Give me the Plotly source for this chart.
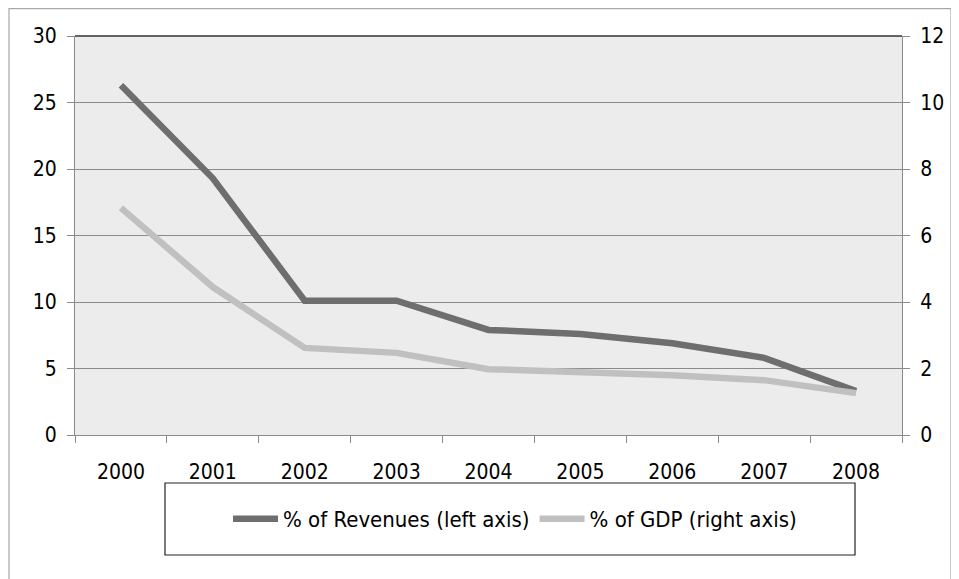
import plotly.graph_objects as go

years = ["2000", "2001", "2002", "2003", "2004", "2005", "2006", "2007", "2008"]
revenues_pct = [26.3, 19.3, 10.1, 10.1, 7.9, 7.6, 6.9, 5.8, 3.3]
gdp_pct = [6.83, 4.45, 2.62, 2.47, 1.98, 1.9, 1.8, 1.65, 1.26]
left_ticks = [0, 5, 10, 15, 20, 25, 30]
right_ticks = [0, 2, 4, 6, 8, 10, 12]

FONT = "DejaVu Sans Condensed, Liberation Sans Narrow, Roboto, sans-serif"
OFF = 8  # page body margin
W, H = 959 - OFF, 579 - OFF
L, R, T, B = 75 - OFF, 902 - OFF, 36 - OFF, 435 - OFF

def px(x):
    return (x - OFF - L) / (R - L)

def py(y):
    return (B - (y - OFF)) / (B - T)

fig = go.Figure()
fig.add_trace(go.Scatter(
    x=years, y=revenues_pct, mode="lines", name="% of Revenues (left axis)",
    line=dict(color="#6e6e6e", width=6.5), yaxis="y"))
fig.add_trace(go.Scatter(
    x=years, y=gdp_pct, mode="lines", name="% of GDP (right axis)",
    line=dict(color="#c0c0c0", width=6.5), yaxis="y2"))

fig.update_layout(
    width=W, height=H,
    margin=dict(l=L, r=W - R, t=T, b=H - B, autoexpand=False),
    paper_bgcolor="white",
    plot_bgcolor="#ececec",
    font=dict(family=FONT, size=21, color="black"),
    showlegend=True,
    legend=dict(orientation="h", x=px(515), xanchor="center", y=py(519), yanchor="middle",
                bgcolor="rgba(0,0,0,0)", font=dict(size=22), itemwidth=45),
    xaxis=dict(type="category", range=[-0.5, 8.5], showgrid=False,
               showline=True, linecolor="#8a8a8a", linewidth=1,
               ticks="outside", tickson="boundaries", ticklen=7, tickcolor="#8a8a8a",
               ticklabelstandoff=18, zeroline=False),
    yaxis=dict(range=[0, 30], tickvals=left_ticks, showgrid=True, gridcolor="#8a8a8a",
               gridwidth=1, showline=True, linecolor="#8a8a8a", linewidth=1,
               ticks="outside", ticklen=7, tickcolor="#8a8a8a", ticklabelstandoff=6,
               zeroline=False),
    yaxis2=dict(range=[0, 12], tickvals=right_ticks, overlaying="y", side="right",
                showgrid=False, showline=True, linecolor="#8a8a8a", linewidth=1,
                ticks="outside", ticklen=7, tickcolor="#8a8a8a", ticklabelstandoff=6,
                zeroline=False),
    shapes=[
        dict(type="line", xref="paper", yref="paper", x0=0, x1=1, y0=1, y1=1,
             line=dict(color="#333333", width=1.5)),
        dict(type="rect", xref="paper", yref="paper", x0=px(165), x1=px(855),
             y0=py(555), y1=py(483), line=dict(color="#222222", width=1.2)),
        dict(type="rect", xref="paper", yref="paper", x0=px(9), x1=px(951),
             y0=py(600), y1=py(8.7), line=dict(color="#a8a8a8", width=1.2), layer="below"),
    ],
)

fig.write_html("out.html")
